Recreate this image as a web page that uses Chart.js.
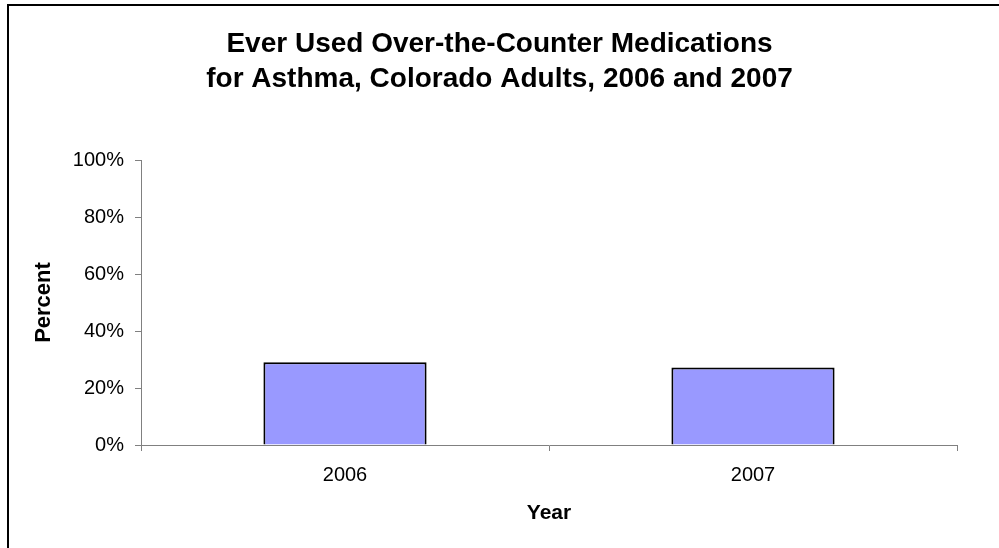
<!DOCTYPE html>
<html>
<head>
<meta charset="utf-8">
<script src="https://cdn.jsdelivr.net/npm/chart.js@4/dist/chart.umd.min.js"></script>
<style>
  html, body { margin: 0; padding: 0; background: #fff; }
  #wrap { width: 999px; height: 548px; position: relative; }
</style>
</head>
<body>
<div id="wrap"><canvas id="otcChart"></canvas></div>
<script>
const years = ['2006', '2007'];
const percentUsed = [29.0, 27.2];
const yTicks = [0, 20, 40, 60, 80, 100];
const titleLines = ['Ever Used Over-the-Counter Medications', 'for Asthma, Colorado Adults, 2006 and 2007'];

const FONT = '"Liberation Sans", Arial, sans-serif';

// thin black frame along the top and left edge
const framePlugin = {
  id: 'frame',
  beforeDraw(chart) {
    const ctx = chart.ctx;
    ctx.save();
    ctx.strokeStyle = '#000';
    ctx.lineWidth = 2;
    ctx.beginPath();
    ctx.moveTo(8, chart.height);
    ctx.lineTo(8, 5);
    ctx.lineTo(chart.width, 5);
    ctx.stroke();
    ctx.restore();
  }
};

new Chart(document.getElementById('otcChart'), {
  type: 'bar',
  data: {
    labels: years,
    datasets: [{
      label: 'Percent',
      data: percentUsed,
      backgroundColor: '#9999FF',
      borderColor: '#000',
      borderWidth: 2,
      categoryPercentage: 1,
      barPercentage: 0.4
    }]
  },
  options: {
    responsive: true,
    maintainAspectRatio: false,
    animation: false,
    layout: { padding: 0 },
    plugins: {
      legend: { display: false },
      tooltip: { enabled: false },
      title: {
        display: true,
        text: titleLines,
        color: '#000',
        font: { family: FONT, size: 28, weight: 'bold', lineHeight: 1.25 },
        padding: { top: 27, bottom: 63 }
      }
    },
    scales: {
      x: {
        afterFit(scale) { scale.height = 103; },
        border: { color: '#808080', width: 1 },
        grid: { display: true, drawOnChartArea: false, offset: true, tickLength: 6, color: '#808080' },
        ticks: { color: '#000', padding: 12, font: { family: FONT, size: 20 } },
        title: {
          display: true,
          text: 'Year',
          color: '#000',
          font: { family: FONT, size: 21, weight: 'bold' },
          padding: { top: 0, bottom: 22 }
        }
      },
      y: {
        min: 0,
        max: 100,
        afterFit(scale) { scale.width = 141; },
        afterBuildTicks(scale) { scale.ticks = yTicks.map(v => ({ value: v })); },
        border: { color: '#808080', width: 1 },
        grid: { display: true, drawOnChartArea: false, tickLength: 6, color: '#808080' },
        ticks: {
          color: '#000',
          padding: 11,
          font: { family: FONT, size: 20 },
          callback: v => v + '%'
        },
        title: {
          display: true,
          text: 'Percent',
          color: '#000',
          font: { family: FONT, size: 22, weight: 'bold' },
          padding: { top: 31, bottom: 0 }
        }
      },
      // empty right-hand margin so the plot ends short of the frame
      spacer: {
        position: 'right',
        min: 0,
        max: 1,
        afterFit(scale) { scale.width = 42; },
        border: { display: false },
        grid: { display: false },
        ticks: { display: false }
      }
    }
  },
  plugins: [framePlugin]
});
</script>
</body>
</html>
